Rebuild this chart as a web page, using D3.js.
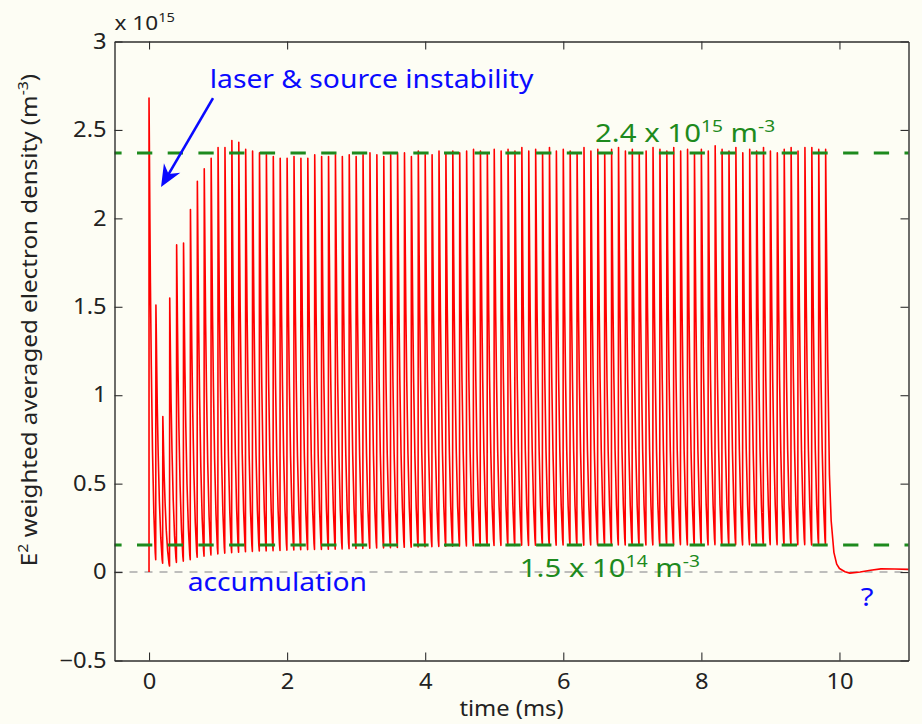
<!DOCTYPE html>
<html>
<head>
<meta charset="utf-8">
<script src="https://cdn.jsdelivr.net/npm/d3@7"></script>
<style>
  html, body { margin: 0; padding: 0; background: #fdfdf4; }
  svg { display: block; }
</style>
</head>
<body>
<svg id="chart" width="922" height="724"></svg>
<script>
/* ── Data ── */
const PULSE_PERIOD = 0.1;   // ms between laser pulses

// peak density of each pulse (x 1e15 m^-3), pulses at 0, 0.1, ... 9.8 ms
const PEAKS = [
  2.68, 1.51, 0.88, 1.55, 1.85, 1.86, 2.05, 2.21, 2.28, 2.34,
  2.40, 2.40, 2.44, 2.43, 2.39, 2.38, 2.37, 2.36, 2.35, 2.34,
  2.34, 2.35, 2.34, 2.34, 2.36, 2.35, 2.35, 2.36, 2.35, 2.36,
  2.35, 2.36, 2.37, 2.36, 2.35, 2.36, 2.37, 2.37, 2.35, 2.38,
  2.36, 2.36, 2.38, 2.37, 2.38, 2.37, 2.38, 2.39, 2.38, 2.37,
  2.39, 2.38, 2.39, 2.38, 2.40, 2.38, 2.39, 2.37, 2.40, 2.38,
  2.39, 2.38, 2.37, 2.40, 2.38, 2.39, 2.37, 2.39, 2.40, 2.38,
  2.39, 2.37, 2.38, 2.40, 2.39, 2.38, 2.40, 2.38, 2.39, 2.37,
  2.39, 2.38, 2.41, 2.39, 2.38, 2.40, 2.37, 2.39, 2.38, 2.40,
  2.38, 2.37, 2.39, 2.40, 2.38, 2.40, 2.40, 2.39, 2.39
];

// minimum reached after each pulse, just before the next one fires
const TROUGHS = [
  0.070, 0.050, 0.034, 0.055, 0.062, 0.070, 0.084, 0.090, 0.097, 0.103,
  0.107, 0.110, 0.112, 0.115, 0.117, 0.119, 0.120, 0.121, 0.122, 0.124,
  0.125, 0.126, 0.127, 0.128, 0.128, 0.129, 0.130, 0.131, 0.132, 0.133,
  0.134, 0.135, 0.136, 0.137, 0.138, 0.139, 0.140, 0.141, 0.142, 0.143,
  0.144, 0.145, 0.146, 0.147, 0.148, 0.148, 0.149, 0.149, 0.150, 0.150,
  0.151, 0.150, 0.151, 0.152, 0.151, 0.152, 0.152, 0.151, 0.152, 0.153,
  0.152, 0.153, 0.152, 0.153, 0.153, 0.152, 0.153, 0.154, 0.153, 0.153,
  0.154, 0.153, 0.154, 0.154, 0.153, 0.154, 0.155, 0.154, 0.154, 0.155,
  0.154, 0.155, 0.154, 0.155, 0.155, 0.154, 0.155, 0.155, 0.154, 0.155,
  0.155, 0.154, 0.155, 0.155, 0.155, 0.154, 0.155, 0.155
];

// decay shape of one pulse: phase within the period -> fraction of (peak - trough) left
const PULSE_PHASE = [0.05, 0.12, 0.20, 0.33, 0.50, 0.70, 0.90, 0.97];
const PULSE_FRAC  = [0.90, 0.75, 0.60, 0.42, 0.24, 0.10, 0.015, 0];

// decay after the last pulse (9.8 ms)
const TAIL_T = [9.81, 9.83, 9.855, 9.88, 9.92, 9.96, 10.0, 10.08, 10.15, 10.3, 10.45, 10.6, 10.8, 11.0];
const TAIL_V = [1.95, 1.20, 0.55, 0.29, 0.11, 0.045, 0.02, 0.002, -0.006, 0.0, 0.010, 0.018, 0.017, 0.015];

const LEVELS  = [2.37, 0.153];          // green reference lines
const X_TICKS = [0, 2, 4, 6, 8, 10];
const Y_TICKS = [-0.5, 0, 0.5, 1, 1.5, 2, 2.5, 3];

/* ── Layout ── */
const W = 922, H = 724;
const margin = { top: 41.5, right: 13.5, bottom: 63.5, left: 114.5 };
const FONT = '"Noto Sans", "DejaVu Sans", sans-serif';
const SX = 1.13;                 // wide face of the original font
const AX = '#2e2e2e';
const BLUE = '#0a0aff';
const GREEN = '#1d8a1d';

const svg = d3.select('#chart').attr('viewBox', `0 0 ${W} ${H}`);
svg.append('rect').attr('width', W).attr('height', H).attr('fill', '#fdfdf4');

const x = d3.scaleLinear().domain([-0.5, 11]).range([margin.left, W - margin.right]);
const y = d3.scaleLinear().domain([-0.5, 3]).range([H - margin.bottom, margin.top]);

/* ── Zero line ── */
svg.append('line')
  .attr('x1', x(-0.5)).attr('x2', x(11))
  .attr('y1', y(0)).attr('y2', y(0))
  .attr('stroke', '#a9a9a9')
  .attr('stroke-width', 1.5)
  .attr('stroke-dasharray', '8,7');

/* ── Density trace ── */
const pts = [[0, 0]];
PEAKS.forEach((pk, i) => {
  const t0 = i * PULSE_PERIOD;
  pts.push([t0, pk]);
  if (i < PEAKS.length - 1) {
    const lo = TROUGHS[i];
    PULSE_PHASE.forEach((ph, k) => {
      pts.push([t0 + ph * PULSE_PERIOD, lo + PULSE_FRAC[k] * (pk - lo)]);
    });
  } else {
    TAIL_T.forEach((t, k) => pts.push([t, TAIL_V[k]]));
  }
});

svg.append('path')
  .datum(pts)
  .attr('fill', 'none')
  .attr('stroke', '#ff0000')
  .attr('stroke-width', 1.6)
  .attr('stroke-linejoin', 'round')
  .attr('d', d3.line().x(d => x(d[0])).y(d => y(d[1])));

/* ── Reference levels ── */
svg.selectAll('.level')
  .data(LEVELS)
  .join('line')
  .attr('class', 'level')
  .attr('x1', x(-0.5)).attr('x2', x(11))
  .attr('y1', d => y(d)).attr('y2', d => y(d))
  .attr('stroke', GREEN)
  .attr('stroke-width', 3)
  .attr('stroke-dasharray', '15.3,15.4')
  .attr('stroke-dashoffset', 8.2);

/* ── Axes (boxed, ticks inward) ── */
function styleAxis(g) {
  g.select('.domain').attr('stroke', AX).attr('stroke-width', 1.4);
  g.selectAll('.tick line').attr('stroke', AX).attr('stroke-width', 1.1);
  g.selectAll('.tick text')
    .attr('fill', '#222')
    .attr('font-size', 21)
    .attr('font-family', FONT)
    .attr('transform', `scale(${SX},1)`);
}
const fmt = d3.format('');

svg.append('g')
  .attr('transform', `translate(0,${y(-0.5)})`)
  .call(d3.axisBottom(x).tickValues(X_TICKS).tickFormat(fmt)
    .tickSizeInner(-8).tickSizeOuter(0).tickPadding(14))
  .call(styleAxis);

svg.append('g')
  .attr('transform', `translate(${x(-0.5)},0)`)
  .call(d3.axisLeft(y).tickValues(Y_TICKS).tickFormat(fmt)
    .tickSizeInner(-8).tickSizeOuter(0).tickPadding(7))
  .call(styleAxis);

svg.append('g')
  .attr('transform', `translate(0,${y(3)})`)
  .call(d3.axisTop(x).tickValues(X_TICKS).tickFormat('')
    .tickSizeInner(-8).tickSizeOuter(0))
  .call(styleAxis);

svg.append('g')
  .attr('transform', `translate(${x(11)},0)`)
  .call(d3.axisRight(y).tickValues(Y_TICKS).tickFormat('')
    .tickSizeInner(-8).tickSizeOuter(0))
  .call(styleAxis);

/* ── Text helper: pieces = [[text, superscript?], ...] ── */
function label(px, py, pieces, opts) {
  const g = svg.append('g')
    .attr('transform', `translate(${px},${py}) ${opts.rotate ? 'rotate(-90) ' : ''}scale(${SX},1)`);
  const txt = g.append('text')
    .attr('font-family', FONT)
    .attr('font-size', opts.size)
    .attr('fill', opts.color)
    .attr('text-anchor', opts.anchor || 'start');
  const supSize = Math.round(opts.size * 0.64);
  const lift = Math.round(opts.size * 0.4);
  let raised = false;
  pieces.forEach(([s, sup]) => {
    const ts = txt.append('tspan').text(s);
    if (sup && !raised) { ts.attr('dy', -lift); raised = true; }
    else if (!sup && raised) { ts.attr('dy', lift); raised = false; }
    ts.attr('font-size', sup ? supSize : opts.size);
  });
  return txt;
}

// exponent above the axis
label(x(-0.5), y(3.065), [['x 10'], ['15', true]], { size: 20, color: '#222' });

// axis titles
label(x(5.25), 716, [['time (ms)']], { size: 21, color: '#222', anchor: 'middle' });
label(37, 320, [['E'], ['2', true], [' weighted averaged electron density (m'], ['-3', true], [')']],
  { size: 21.4, color: '#222', anchor: 'middle', rotate: true });

// annotations
label(x(0.88), y(2.735), [['laser & source instability']], { size: 25, color: BLUE });
label(x(0.56), y(-0.107), [['accumulation']], { size: 25, color: BLUE });
label(x(10.4), y(-0.19), [['?']], { size: 26, color: BLUE, anchor: 'middle' });
label(x(6.46), y(2.43), [['2.4 x 10'], ['15', true], [' m'], ['-3', true]], { size: 26, color: GREEN });
label(x(5.37), y(-0.03), [['1.5 x 10'], ['14', true], [' m'], ['-3', true]], { size: 26, color: GREEN });

/* ── Arrow to the first pulse ── */
const from = [x(0.927), y(2.68)];
const tip  = [x(0.174), y(2.177)];
const dx = from[0] - tip[0], dy = from[1] - tip[1];
const len = Math.hypot(dx, dy);
const ux = dx / len, uy = dy / len;
const px = -uy, py = ux;
const headLen = 22, headHalf = 9.5, notch = 15;

svg.append('line')
  .attr('x1', from[0]).attr('y1', from[1])
  .attr('x2', tip[0] + ux * notch).attr('y2', tip[1] + uy * notch)
  .attr('stroke', BLUE)
  .attr('stroke-width', 2.6);

svg.append('polygon')
  .attr('points', [
    tip,
    [tip[0] + ux * headLen + px * headHalf, tip[1] + uy * headLen + py * headHalf],
    [tip[0] + ux * notch, tip[1] + uy * notch],
    [tip[0] + ux * headLen - px * headHalf, tip[1] + uy * headLen - py * headHalf]
  ].map(p => p.join(',')).join(' '))
  .attr('fill', BLUE);
</script>
</body>
</html>
